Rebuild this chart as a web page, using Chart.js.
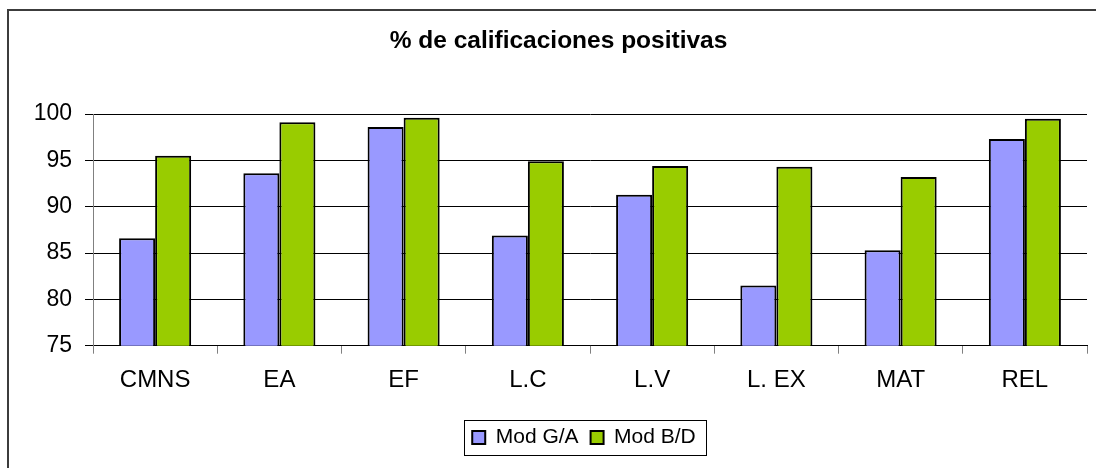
<!DOCTYPE html>
<html>
<head>
<meta charset="utf-8">
<script src="https://cdn.jsdelivr.net/npm/chart.js@4/dist/chart.umd.min.js"></script>
<style>
  html, body { margin: 0; padding: 0; background: #fff; overflow: hidden; }
  #frame { position: absolute; left: 7px; top: 9px; width: 3000px; height: 3000px;
           border-left: 2px solid #3c3c3c; border-top: 2px solid #3c3c3c; }
  #wrap { position: absolute; left: 0; top: 0; width: 1096px; height: 468px; }
</style>
</head>
<body>
<div id="frame"></div>
<div id="wrap"><canvas id="c" width="1096" height="468"></canvas></div>
<script>
const titleText = '% de calificaciones positivas';
const categories = ['CMNS', 'EA', 'EF', 'L.C', 'L.V', 'L. EX', 'MAT', 'REL'];
const seriesNames = ['Mod G/A', 'Mod B/D'];
const modGA = [86.6, 93.6, 98.6, 86.9, 91.3, 81.5, 85.3, 97.3];
const modBD = [95.5, 99.1, 99.6, 94.9, 94.4, 94.3, 93.2, 99.5];
const yMin = 75, yMax = 100, yStep = 5;

const FONT = '"Liberation Sans", Arial, sans-serif';
const LEGEND_SHIFT = -6;

const legendFrame = {
  id: 'legendFrame',
  afterLayout(chart) {
    const lg = chart.legend;
    if (!lg) return;
    lg.left += LEGEND_SHIFT;
    lg.right += LEGEND_SHIFT;
    (lg.legendHitBoxes || []).forEach(h => { h.left += LEGEND_SHIFT; });
  },
  afterDraw(chart) {
    const lg = chart.legend;
    if (!lg || !lg.legendHitBoxes || !lg.legendHitBoxes.length) return;
    const hb = lg.legendHitBoxes;
    const left = Math.min(...hb.map(h => h.left)) - 8;
    const right = Math.max(...hb.map(h => h.left + h.width)) + 10;
    const top = Math.min(...hb.map(h => h.top)) - 7;
    const bottom = Math.max(...hb.map(h => h.top + h.height)) + 7;
    const ctx = chart.ctx;
    ctx.save();
    ctx.strokeStyle = '#000';
    ctx.lineWidth = 1;
    ctx.strokeRect(Math.round(left) + 0.5, Math.round(top) + 0.5, Math.round(right - left), Math.round(bottom - top));
    ctx.restore();
  }
};

new Chart(document.getElementById('c'), {
  type: 'bar',
  data: {
    labels: categories,
    datasets: [
      { label: seriesNames[0], data: modGA, backgroundColor: '#9999FF', borderColor: '#000', borderWidth: 2, borderSkipped: false },
      { label: seriesNames[1], data: modBD, backgroundColor: '#99CC00', borderColor: '#000', borderWidth: 2, borderSkipped: false }
    ]
  },
  options: {
    responsive: false,
    animation: false,
    devicePixelRatio: 1,
    layout: { padding: { top: 0, left: 30, right: 9, bottom: 10 } },
    datasets: { bar: { categoryPercentage: 0.58, barPercentage: 1.0 } },
    plugins: {
      title: {
        display: true, text: titleText, color: '#000',
        font: { family: FONT, size: 24.5, weight: 'bold' },
        padding: { top: 27, bottom: 57.6 }
      },
      legend: {
        display: true, position: 'bottom', fullSize: false,
        labels: {
          color: '#000', font: { family: FONT, size: 21 },
          boxWidth: 13, boxHeight: 13, padding: 12
        }
      },
      tooltip: { enabled: false }
    },
    scales: {
      x: {
        grid: { display: true, drawOnChartArea: false, color: '#808080', tickLength: 8, offset: true },
        border: { display: true, color: '#000', width: 1 },
        ticks: { color: '#000', font: { family: FONT, size: 24 }, padding: 12, maxRotation: 0, autoSkip: false },
        afterFit(scale) { scale.height = 69.3; }
      },
      y: {
        min: yMin, max: yMax,
        grid: { color: '#000', tickLength: 8, lineWidth: 1 },
        border: { display: true, color: '#808080', width: 1 },
        ticks: { stepSize: yStep, color: '#000', font: { family: FONT, size: 23 }, padding: 13 },
        afterFit(scale) { scale.width = 63; }
      }
    }
  },
  plugins: [legendFrame]
});
</script>
</body>
</html>
